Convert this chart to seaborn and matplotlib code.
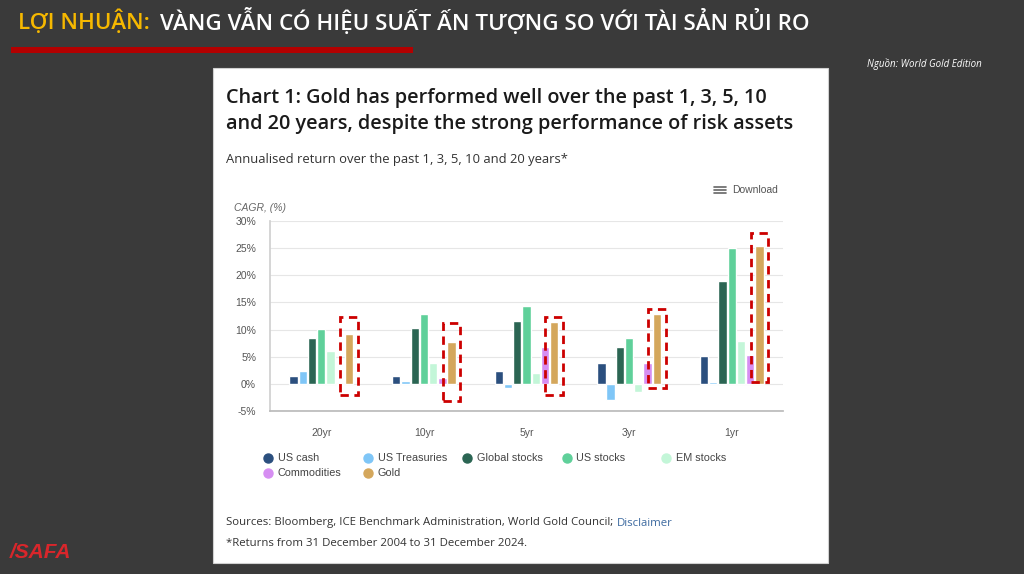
import numpy as np
import pandas as pd
import matplotlib.pyplot as plt
import seaborn as sns
from matplotlib.patches import Rectangle
from matplotlib.lines import Line2D

# data (CAGR, %)
periods = ['20yr', '10yr', '5yr', '3yr', '1yr']
assets = ['US cash', 'US Treasuries', 'Global stocks', 'US stocks',
          'EM stocks', 'Commodities', 'Gold']
us_cash = [1.5, 1.5, 2.3, 3.8, 5.1]
us_treasuries = [2.4, 0.6, -0.7, -3.0, 0.4]
global_stocks = [8.4, 10.3, 11.6, 6.8, 19.0]
us_stocks = [10.1, 12.8, 14.4, 8.4, 25.0]
em_stocks = [6.1, 3.9, 2.0, -1.5, 7.9]
commodities = [-0.2, 1.0, 6.7, 3.9, 5.3]
gold = [9.1, 7.8, 11.4, 12.9, 25.4]
colors = ['#2b4f7e', '#7fc6f7', '#2b6553', '#5fd09a', '#c3f6d8', '#d68ef2', '#d4a75c']

# hand-drawn highlight boxes around gold (in %)
box_top = [12.3, 11.3, 12.3, 13.7, 27.7]
box_bottom = [-2.0, -3.2, -2.0, -0.8, 0.3]

series = [us_cash, us_treasuries, global_stocks, us_stocks, em_stocks, commodities, gold]
df = pd.DataFrame([
    {'period': p, 'asset': a, 'value': v}
    for a, vals in zip(assets, series) for p, v in zip(periods, vals)
])

sns.set_theme(style='white')
plt.rcParams['font.family'] = ['Open Sans', 'DejaVu Sans']
ARIAL = ['Liberation Sans', 'DejaVu Sans']

W, H = 1024, 574
fig = plt.figure(figsize=(W / 100, H / 100), dpi=100)
fig.patch.set_facecolor('#3a3a3a')
renderer = fig.canvas.get_renderer()


def px(x, y):
    return x / W, 1 - y / H


# slide header: fit both parts into the width of the original
head_a = fig.text(*px(18, 22), 'LỢI NHUẬN:', color='#f6b800', fontsize=16,
                  weight='semibold', va='center')
head_b = fig.text(*px(157, 22), 'VÀNG VẪN CÓ HIỆU SUẤT ẤN TƯỢNG SO VỚI TÀI SẢN RỦI RO',
                  color='white', fontsize=16, weight='semibold', va='center')
wa = head_a.get_window_extent(renderer).width
wb = head_b.get_window_extent(renderer).width
scale = (810 - 18 - 10) / (wa + wb)
for t in (head_a, head_b):
    t.set_fontsize(16 * scale)
wa = head_a.get_window_extent(renderer).width
head_b.set_x((18 + wa + 10) / W)

fig.add_artist(Rectangle(px(11, 53), 402 / W, 6 / H, transform=fig.transFigure,
                         color='#b30000', lw=0))
fig.text(*px(982, 64), 'Nguồn: World Gold Edition', color='white', fontsize=7,
         style='italic', ha='right', va='center')
fig.text(*px(10, 553), '/SAFA', color='#d9262b', fontsize=15, weight='bold',
         style='italic', va='center', family=ARIAL)

# white card
fig.add_artist(Rectangle(px(213, 563), 615 / W, 495 / H, transform=fig.transFigure,
                         facecolor='white', edgecolor='#d0d0d0', lw=0.8, zorder=0))

fig.text(*px(226, 98), 'Chart 1: Gold has performed well over the past 1, 3, 5, 10',
         fontsize=14.3, weight='semibold', color='#1a1a1a', va='center')
fig.text(*px(226, 124), 'and 20 years, despite the strong performance of risk assets',
         fontsize=14.3, weight='semibold', color='#1a1a1a', va='center')
fig.text(*px(226, 160), 'Annualised return over the past 1, 3, 5, 10 and 20 years*',
         fontsize=9.4, color='#333333', va='center')
for dy in (-3, 0, 3):
    fig.add_artist(Line2D([714 / W, 726 / W], [1 - (190 + dy) / H] * 2,
                          transform=fig.transFigure, color='#666666', lw=1.2))
fig.text(*px(732, 190), 'Download', fontsize=7.5, color='#555555', va='center',
         family=ARIAL)
fig.text(*px(234, 208), 'CAGR, (%)', fontsize=7.5, color='#666666', style='italic',
         va='center', family=ARIAL)

# chart
ax = fig.add_axes([270 / W, 1 - 411 / H, 513 / W, 190 / H])
ax.set_facecolor('white')
sns.barplot(data=df, x='period', y='value', hue='asset', order=periods,
            hue_order=assets, palette=colors, saturation=1, width=0.63, gap=0.1,
            legend=False, ax=ax)
ax.set_ylim(-5, 30)
ax.set_xlim(-0.5, 4.5)
ax.set_yticks(np.arange(-5, 31, 5))
ax.set_yticklabels([f'{t}%' for t in range(-5, 31, 5)])
ax.yaxis.grid(True, color='#e6e6e6', lw=0.8)
ax.set_axisbelow(True)
ax.set_xlabel('')
ax.set_ylabel('')
for s in ('top', 'right'):
    ax.spines[s].set_visible(False)
ax.spines['left'].set_color('#d0d0d0')
ax.spines['bottom'].set_color('#bbbbbb')
ax.tick_params(axis='both', length=0, labelsize=7.5, colors='#555555')
ax.tick_params(axis='x', pad=12)
ax.tick_params(axis='y', pad=10)
for lab in ax.get_xticklabels() + ax.get_yticklabels():
    lab.set_family(ARIAL)

# red dashed boxes around gold bars
pad = 0.045
for patch, top, bot in zip(ax.containers[-1], box_top, box_bottom):
    x0 = patch.get_x() - pad
    w = patch.get_width() + 2 * pad
    ax.add_patch(Rectangle((x0, bot), w, top - bot, fill=False,
                           edgecolor='#cc0000', lw=2, ls=(0, (3, 2)),
                           clip_on=False, zorder=5))

# legend (row-wise like the original)
for i, (name, c) in enumerate(zip(assets, colors)):
    col, row = i % 5, i // 5
    mx, my = 268 + 99.5 * col, 458 + 15 * row
    fig.add_artist(Line2D([mx / W], [1 - my / H], marker='o', ms=6.5, color=c,
                          lw=0, transform=fig.transFigure))
    fig.text(*px(mx + 10, my), name, fontsize=7.8, color='#444444', va='center',
             family=ARIAL)

src = fig.text(*px(226, 523),
               'Sources: Bloomberg, ICE Benchmark Administration, World Gold Council;',
               fontsize=8.2, color='#333333', va='center')
src_w = src.get_window_extent(renderer).width
fig.text(*px(226 + src_w + 4, 523), 'Disclaimer', fontsize=8.2, color='#3d6aa0',
         va='center')
fig.text(*px(226, 544), '*Returns from 31 December 2004 to 31 December 2024.',
         fontsize=8.2, color='#333333', va='center')

fig.savefig('out.png', dpi=100, facecolor=fig.get_facecolor())
